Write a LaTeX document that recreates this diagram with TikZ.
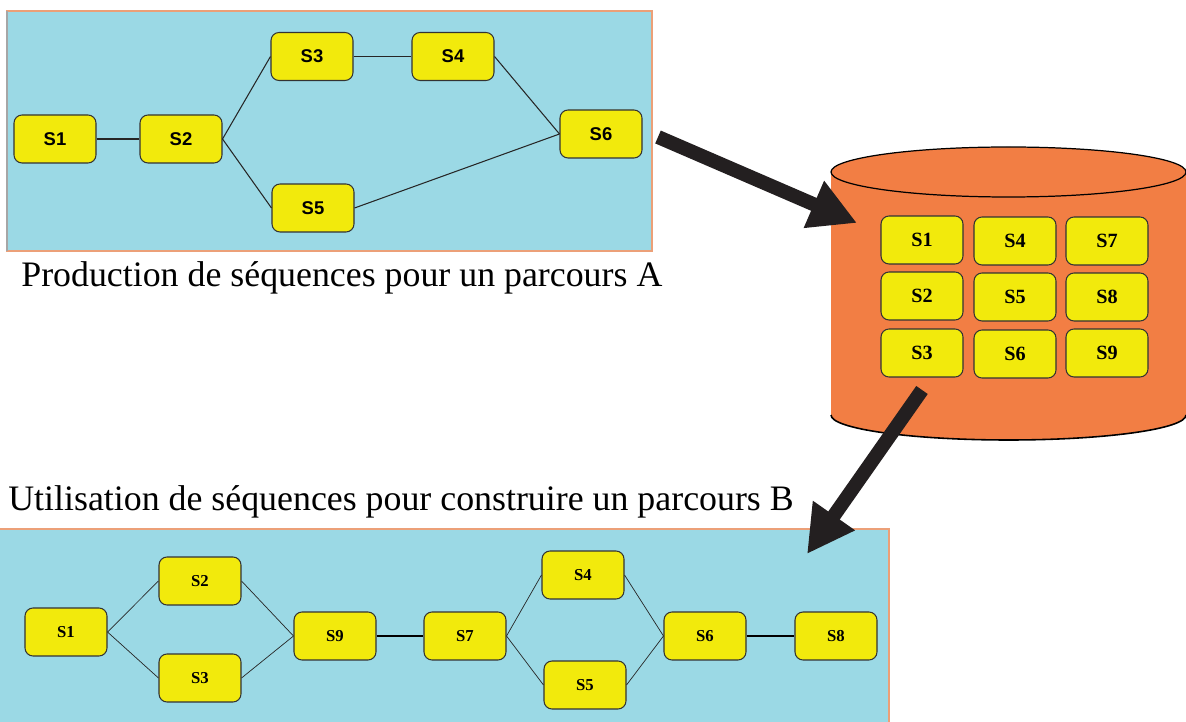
\documentclass[tikz,border=0pt]{standalone}
\usepackage{fontspec}
\setmainfont{Liberation Serif}
\setsansfont{Liberation Sans}
\usetikzlibrary{arrows.meta}

\definecolor{panelblue}{RGB}{155,217,229}
\definecolor{panelrim}{RGB}{236,160,120}
\definecolor{seqyellow}{RGB}{242,234,12}
\definecolor{baseorange}{RGB}{242,126,68}
\definecolor{arrowblack}{RGB}{35,31,32}

\begin{document}
\begin{tikzpicture}[x=0.02cm, y=-0.02cm,
  seq/.style={draw=black!80, fill=seqyellow, rounded corners=0.16cm, line width=0.6pt,
    minimum width=1.64cm, minimum height=0.96cm, inner sep=0pt},
  seqA/.style={seq, font=\sffamily\bfseries\fontsize{10.5}{12}\selectfont},
  seqD/.style={seq, font=\bfseries\fontsize{11.5}{12}\selectfont},
  seqB/.style={seq, font=\bfseries\fontsize{9.5}{11}\selectfont},
  bigarrow/.style={arrowblack, line width=0.28cm, -{Triangle[length=0.94cm, width=0.96cm]}},
  caption/.style={anchor=base west, inner sep=0pt, font=\fontsize{20.4}{24}\selectfont}]
  \useasboundingbox (0,0) rectangle (1186,722);

  % Parcours A
  \filldraw[fill=panelblue, draw=panelrim, line width=0.6pt] (7,11) rectangle (652,251);
  \draw[black!35, line width=0.6pt] (7,11) -- (7,251);
  \node[seqA] (a1) at (55,139) {S1};
  \node[seqA] (a2) at (181,139) {S2};
  \node[seqA] (a3) at (312,56.5) {S3};
  \node[seqA] (a4) at (453,56.5) {S4};
  \node[seqA] (a5) at (313,208) {S5};
  \node[seqA] (a6) at (601,134) {S6};

  \begin{scope}[line width=0.6pt, black!85]
    \draw (a1) edge (a2);
    \draw (a2.east) edge (a3.west);
    \draw (a2.east) edge (a5.west);
    \draw (a3) edge (a4);
    \draw (a4.east) edge (a6.west);
    \draw (a5.east) edge (a6.west);
  \end{scope}

  \node[caption] (capA) at (21,287) {Production de séquences pour un parcours A};

  % Base de sequences
  \fill[baseorange] (831,172) -- (831,415)
    arc[start angle=180, end angle=0, x radius=177.5, y radius=25] -- (1186,172) -- cycle;
  \filldraw[fill=baseorange, draw=black, line width=0.7pt] (1008.5,172) ellipse[x radius=177.5, y radius=25];
  \draw[black, line width=0.9pt] (831,415) arc[start angle=180, end angle=0, x radius=177.5, y radius=25];

  \node[seqD] (d1) at (922,240) {S1};
  \node[seqD] (d2) at (922,296) {S2};
  \node[seqD] (d3) at (922,353) {S3};

  \node[seqD] (d4) at (1015,241) {S4};
  \node[seqD] (d5) at (1015,297) {S5};
  \node[seqD] (d6) at (1015,354) {S6};

  \node[seqD] (d7) at (1107,241) {S7};
  \node[seqD] (d8) at (1107,297) {S8};
  \node[seqD] (d9) at (1107,353) {S9};

  % Fleches
  \coordinate (outA) at (658,137);
  \coordinate (inD) at (857,223);
  \coordinate (outD) at (922,390);
  \coordinate (inB) at (807,554);
  \draw[bigarrow] (outA) -- (inD);

  % Parcours B
  \node[caption] (capB) at (8,510) {Utilisation de séquences pour construire un parcours B};
  \filldraw[fill=panelblue, draw=panelrim, line width=0.6pt] (-2,529) rectangle (889,724);

  \node[seqB] (b1) at (66,632) {S1};
  \node[seqB] (b2) at (200,581) {S2};
  \node[seqB] (b3) at (200,678) {S3};
  \node[seqB] (b9) at (335,636) {S9};
  \node[seqB] (b7) at (465,636) {S7};
  \node[seqB] (b4) at (583,575) {S4};
  \node[seqB] (b5) at (585,685) {S5};
  \node[seqB] (b6) at (705,636) {S6};
  \node[seqB] (b8) at (836,636) {S8};

  % Thin
  \begin{scope}[line width=0.4pt, black!85]
    \draw (b1.east) edge (b2.west);
    \draw (b1.east) edge (b3.west);
    \draw (b2.east) edge (b9.west);
    \draw (b3.east) edge (b9.west);
    \draw (b7.east) edge (b4.west);
    \draw (b7.east) edge (b5.west);
    \draw (b4.east) edge (b6.west);
    \draw (b5.east) edge (b6.west);
  \end{scope}

  % Thick
  \draw[line width=1.3pt] (b9) edge (b7);
  \draw[line width=1.3pt] (b6) edge (b8);

  \draw[bigarrow] (outD) -- (inB);
\end{tikzpicture}
\end{document}
